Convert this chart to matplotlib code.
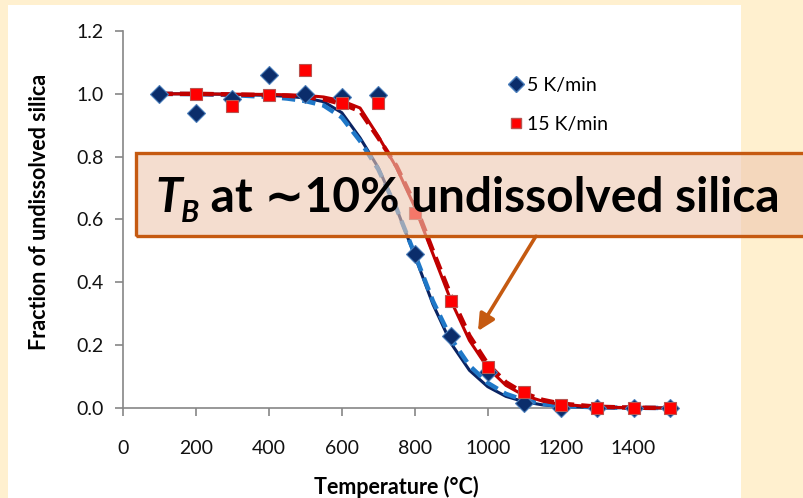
import numpy as np
import matplotlib
matplotlib.use("Agg")
import matplotlib.pyplot as plt
from matplotlib.patches import Rectangle, FancyArrowPatch
from matplotlib.lines import Line2D

plt.rcParams['font.family'] = ['Lato', 'DejaVu Sans']

# measured points
temp_5 = [100, 200, 300, 400, 500, 600, 700, 800, 900, 1000, 1100, 1200, 1300, 1400, 1500]
frac_5 = [1.0, 0.94, 0.985, 1.06, 1.0, 0.99, 0.995, 0.49, 0.23, 0.115, 0.015, 0.0, 0.0, 0.0, 0.0]
temp_15 = [200, 300, 400, 500, 600, 700, 800, 900, 1000, 1100, 1200, 1300, 1400, 1500]
frac_15 = [1.0, 0.96, 0.995, 1.075, 0.97, 0.97, 0.62, 0.34, 0.13, 0.05, 0.01, 0.0, 0.0, 0.0]

# fit curves
curve_t = [100, 200, 300, 400, 450, 500, 550, 600, 650, 700, 750, 800, 850, 900,
           950, 1000, 1050, 1100, 1150, 1200, 1300, 1400, 1500]
fit_5 = [1.0, 1.0, 0.998, 0.995, 0.992, 0.987, 0.975, 0.94, 0.86, 0.765, 0.635, 0.485, 0.33,
         0.205, 0.12, 0.068, 0.037, 0.02, 0.01, 0.005, 0.0015, 0.0004, 0.0]
fit_5_dash = [1.0, 0.999, 0.996, 0.99, 0.985, 0.977, 0.963, 0.925, 0.85, 0.76, 0.635, 0.49, 0.34,
              0.22, 0.135, 0.08, 0.045, 0.025, 0.013, 0.007, 0.002, 0.0006, 0.0]
fit_15 = [1.0, 1.0, 0.999, 0.998, 0.997, 0.995, 0.99, 0.978, 0.955, 0.865, 0.765, 0.64, 0.49,
          0.34, 0.215, 0.128, 0.072, 0.04, 0.022, 0.012, 0.003, 0.001, 0.0]
fit_15_dash = [1.0, 1.0, 0.998, 0.996, 0.994, 0.99, 0.983, 0.968, 0.945, 0.86, 0.77, 0.65, 0.5,
               0.355, 0.23, 0.14, 0.082, 0.047, 0.026, 0.014, 0.004, 0.001, 0.0]

x_ticks = [0, 200, 400, 600, 800, 1000, 1200, 1400]
y_ticks = [0.0, 0.2, 0.4, 0.6, 0.8, 1.0, 1.2]

W, H = 804, 498
fig = plt.figure(figsize=(W / 100, H / 100), dpi=100)
fig.patch.set_facecolor('#FFF0CF')
fig.patches.append(Rectangle((8 / W, 0), 733 / W, 493 / H, transform=fig.transFigure,
                             facecolor='white', edgecolor='none', zorder=-5))

ax = fig.add_axes([123 / W, 90 / H, 547 / W, 377 / H])
ax.set_facecolor('none')
ax.set_zorder(1)

ax.plot(curve_t, fit_5, color='#0A2463', lw=2.2, zorder=3, clip_on=False)
ax.plot(curve_t, fit_5_dash, color='#1F78C8', lw=3.2, dashes=(3, 1.6), zorder=3, clip_on=False)
ax.plot(curve_t, fit_15, color='#C00000', lw=2.2, zorder=3, clip_on=False)
ax.plot(curve_t, fit_15_dash, color='#C00000', lw=3.2, dashes=(3, 1.6), zorder=3, clip_on=False)

ax.plot(temp_5, frac_5, linestyle='none', marker='D', ms=9.5, mfc='#0B2D6B',
        mec='#4A7EBB', mew=0.8, zorder=4, clip_on=False)
ax.plot(temp_15, frac_15, linestyle='none', marker='s', ms=8.5, mfc='#FF0000',
        mec='#B85450', mew=0.8, zorder=5, clip_on=False)

ax.set_xlim(0, 1500)
ax.set_ylim(0, 1.2)
ax.set_xticks(x_ticks)
ax.set_yticks(y_ticks)
ax.set_yticklabels([f"{v:.1f}" for v in y_ticks])
for s in ['top', 'right']:
    ax.spines[s].set_visible(False)
for s in ['left', 'bottom']:
    ax.spines[s].set_color('#868686')
    ax.spines[s].set_linewidth(1.2)
    ax.spines[s].set_zorder(2)
ax.tick_params(axis='both', direction='out', length=6, width=1.2, color='#868686',
               labelsize=14, labelcolor='#111111')
ax.tick_params(axis='x', pad=17)
ax.tick_params(axis='y', pad=8)

fig.text(40 / W, 1 - 212 / H, 'Fraction of undissolved silica', rotation=90,
         ha='center', va='center', fontsize=15.5, fontweight='bold')
fig.text(396 / W, 1 - 487 / H, 'Temperature (°C)', ha='center', va='center',
         fontsize=15.5, fontweight='bold')

handles = [Line2D([], [], linestyle='none', marker='D', ms=8, mfc='#0B2D6B', mec='#4A7EBB'),
           Line2D([], [], linestyle='none', marker='s', ms=7.5, mfc='#FF0000', mec='#B85450')]
ax.legend(handles, ['5 K/min', '15 K/min'], loc='upper left',
          bbox_to_anchor=(500 / W, 1 - 67 / H), bbox_transform=fig.transFigure,
          frameon=False, fontsize=14, handlelength=0.6, handletextpad=0.3,
          labelspacing=1.15, borderpad=0)

# arrow from the call-out box to the curves
fig.add_artist(FancyArrowPatch(
    (536 / W, 1 - 236 / H), (478 / W, 1 - 331 / H), transform=fig.transFigure,
    arrowstyle='-|>,head_width=5,head_length=10', color='#C55A11', lw=2.6,
    shrinkA=0, shrinkB=0, zorder=6))

# call-out box
fig.patches.append(Rectangle((136 / W, 1 - 236 / H), 680 / W, 83 / H, transform=fig.transFigure,
                             facecolor='#EDC7B0', alpha=0.6, edgecolor='none', zorder=7))
fig.patches.append(Rectangle((136 / W, 1 - 236 / H), 680 / W, 83 / H, transform=fig.transFigure,
                             facecolor='none', edgecolor='#C55A11', lw=2.4, zorder=8))

fig.canvas.draw()
r = fig.canvas.get_renderer()
base_y = H - 212
fs = 34.5
t1 = fig.text(155 / W, base_y / H, 'T', fontsize=fs, fontweight='bold', style='italic',
              va='baseline', zorder=9)
w1 = t1.get_window_extent(r).width
t2 = fig.text((155 + w1 - 1) / W, (base_y - 10) / H, 'B', fontsize=fs * 0.62, fontweight='bold',
              style='italic', va='baseline', zorder=9)
w2 = t2.get_window_extent(r).width
fig.text((155 + w1 + w2 - 1) / W, base_y / H, ' at ∼10% undissolved silica', fontsize=fs,
         fontweight='bold', va='baseline', zorder=9)

fig.savefig('out.png', dpi=100, facecolor=fig.get_facecolor())
